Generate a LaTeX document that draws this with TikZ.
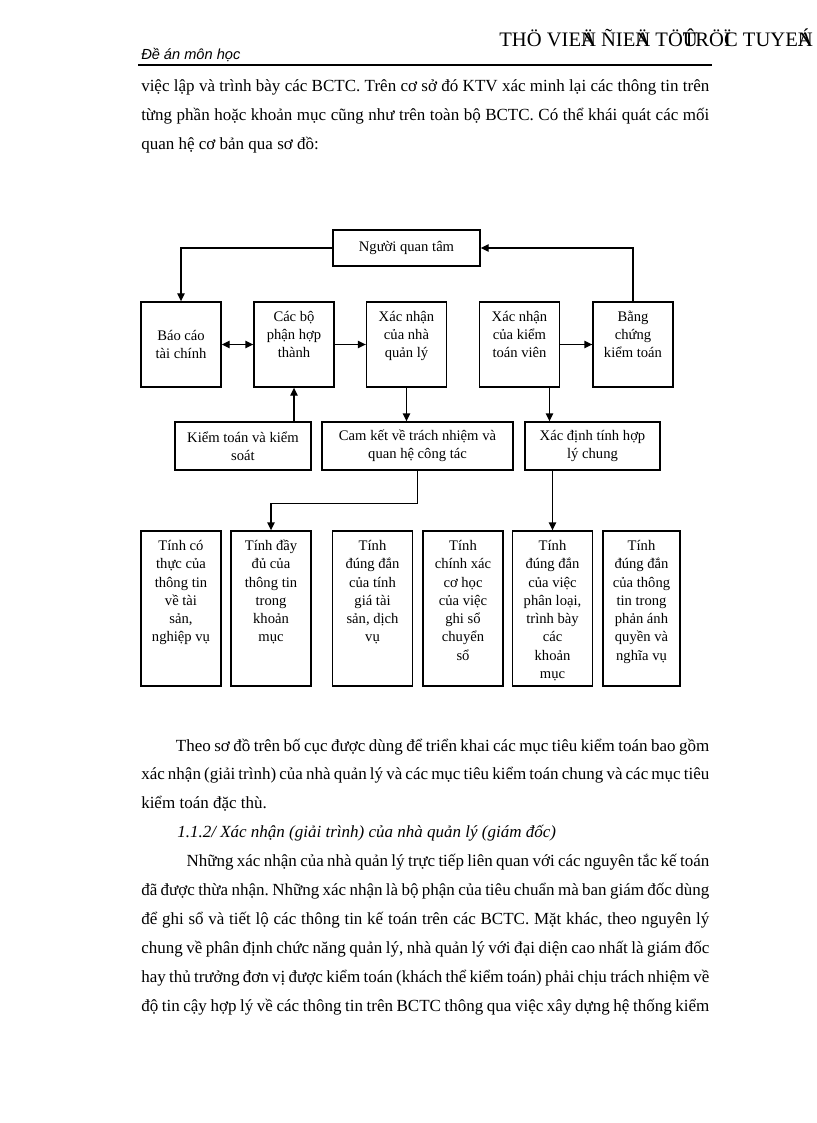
\documentclass[tikz,border=0pt]{standalone}
\usepackage{fontspec}
\setmainfont{Liberation Serif}
\newfontfamily\headsans{Liberation Sans}
\usetikzlibrary{arrows.meta,positioning}

% text box with its lines set from the top
\newcommand\topcell[3]{\parbox[c][#2][t]{#1}{\centering\rule{0pt}{14.5bp}#3}}
% letter printed over the next one
\newcommand\ovl[1]{\makebox[0pt][l]{#1}}
% justified page text
\newcommand\pagetext[1]{\parbox[t]{426bp}{\frenchspacing\spaceskip=0.25em plus 0.4em minus 0.12em #1}}

\begin{document}
\begin{tikzpicture}[
  x=0.75bp, y=-0.75bp,
  cell/.style={draw, line width=1pt, inner sep=0pt, font=\fontsize{11}{13.8}\selectfont},
  box/.style={cell, align=center},
  arrow/.style={-{Triangle[length=6bp,width=5.5bp]}, line width=1pt},
  biarrow/.style={{Triangle[length=6bp,width=5.5bp]}-{Triangle[length=6bp,width=5.5bp]}, line width=1pt},
  para/.style={anchor=base west, inner sep=0pt, font=\fontsize{12.8}{21.8}\selectfont}
]
\useasboundingbox (0,0) rectangle (816,1123);
\fill[white] (0,0) rectangle (816,1123);

% page header
\node[anchor=base west, inner sep=0pt, font=\headsans\itshape\fontsize{11}{13}\selectfont] (head) at (141,60) {Đề án môn học};
\node[anchor=base east, inner sep=0pt, font=\fontsize{15.5}{17}\selectfont] (site) at (813,47) {THÖ VIE\ovl{Ä}N ÑIE\ovl{Ä}N TÖ\ovl{Û}TRÖ\ovl{Ï}C TUYE\ovl{Á}N};
\draw[line width=0.8pt] (138,65) -- (712,65);

% text above the chart
\node[para] (intro) at (141,92) {\pagetext{việc lập và trình bày các BCTC. Trên cơ sở đó KTV xác minh lại các thông tin trên\linebreak từng phần hoặc khoản mục cũng như trên toàn bộ BCTC. Có thể khái quát các mối\linebreak quan hệ cơ bản qua sơ đồ:}};

% chart
\node[box, minimum width=110.25bp, minimum height=27bp] (user) at (406.5,248) {Người quan tâm};

\node[box, minimum width=60bp, minimum height=63.75bp] (report) at (181,344.5) {Báo cáo\\tài chính};
\node[cell] (parts) at (294,344.5) {\topcell{60bp}{63.75bp}{Các bộ\\phận hợp\\thành}};
\node[cell] (mgmt) at (406.5,344.5) {\topcell{60bp}{63.75bp}{Xác nhận\\của nhà\\quản lý}};
\node[cell] (auditor) at (519.5,344.5) {\topcell{60bp}{63.75bp}{Xác nhận\\của kiểm\\toán viên}};
\node[cell] (evidence) at (633,344.5) {\topcell{60bp}{63.75bp}{Bằng\\chứng\\kiểm toán}};

\node[box, minimum width=102bp, minimum height=36bp] (control) at (243,446) {Kiểm toán và kiểm\\soát};
\node[box, minimum width=143.25bp, minimum height=36bp] (commit) at (417.5,446) {Cam kết về trách nhiệm và\\quan hệ công tác};
\node[box, minimum width=101.25bp, minimum height=36bp] (overall) at (592.5,446) {Xác định tính hợp\\lý chung};

\node[cell] (exist) at (181,608.5) {\topcell{60bp}{116.25bp}{Tính có\\thực của\\thông tin\\về tài\\sản,\\nghiệp vụ}};
\node[cell] (complete) at (271,608.5) {\topcell{60bp}{116.25bp}{Tính đầy\\đủ của\\thông tin\\trong\\khoản\\mục}};
\node[cell] (valuation) at (372.5,608.5) {\topcell{60bp}{116.25bp}{Tính\\đúng đắn\\của tính\\giá tài\\sản, dịch\\vụ}};
\node[cell] (accuracy) at (463,608.5) {\topcell{60bp}{116.25bp}{Tính\\chính xác\\cơ học\\của việc\\ghi sổ\\chuyển\\sổ}};
\node[cell] (present) at (552.5,608.5) {\topcell{60bp}{116.25bp}{Tính\\đúng đắn\\của việc\\phân loại,\\trình bày\\các\\khoản\\mục}};
\node[cell, line width=1.9pt] (rights) at (641.5,608.5) {\topcell{57.75bp}{116.25bp}{Tính\\đúng đắn\\của thông\\tin trong\\phản ánh\\quyền và\\nghĩa vụ}};

\draw[arrow] (user.west) -| (report.north);
\draw[arrow] (evidence.north) |- (user.east);
\draw[biarrow] (report) -- (parts);
\draw[arrow] (parts) -- (mgmt);
\draw[arrow] (auditor) -- (evidence);
\draw[arrow] (control.north -| parts.south) -- (parts.south);
\draw[arrow] (mgmt.south) -- (mgmt.south |- commit.north);
\draw[arrow] ([xshift=-8bp]auditor.south east) coordinate (audfoot) -- (audfoot |- overall.north);
\draw[arrow] (commit.south) -- ++(0,33) -| (complete.north);
\draw[arrow] (overall.south -| present.north) -- (present.north);

% text below the chart
\node[para] (body) at (141,751) {\pagetext{\hspace*{26bp}Theo sơ đồ trên bố cục được dùng để triển khai các mục tiêu kiểm toán bao gồm\linebreak xác nhận (giải trình) của nhà quản lý và các mục tiêu kiểm toán chung và các mục tiêu\linebreak kiểm toán đặc thù.\par
\hspace*{27bp}\textit{1.1.2/ Xác nhận (giải trình) của nhà quản lý (giám đốc)}\par
\parfillskip=0pt\hspace*{34bp}Những xác nhận của nhà quản lý trực tiếp liên quan với các nguyên tắc kế toán\linebreak đã được thừa nhận. Những xác nhận là bộ phận của tiêu chuẩn mà ban giám đốc dùng\linebreak để ghi sổ và tiết lộ các thông tin kế toán trên các BCTC. Mặt khác, theo nguyên lý\linebreak chung về phân định chức năng quản lý, nhà quản lý với đại diện cao nhất là giám đốc\linebreak hay thủ trưởng đơn vị được kiểm toán (khách thể kiểm toán) phải chịu trách nhiệm về\linebreak độ tin cậy hợp lý về các thông tin trên BCTC thông qua việc xây dựng hệ thống kiểm}};
\end{tikzpicture}
\end{document}
